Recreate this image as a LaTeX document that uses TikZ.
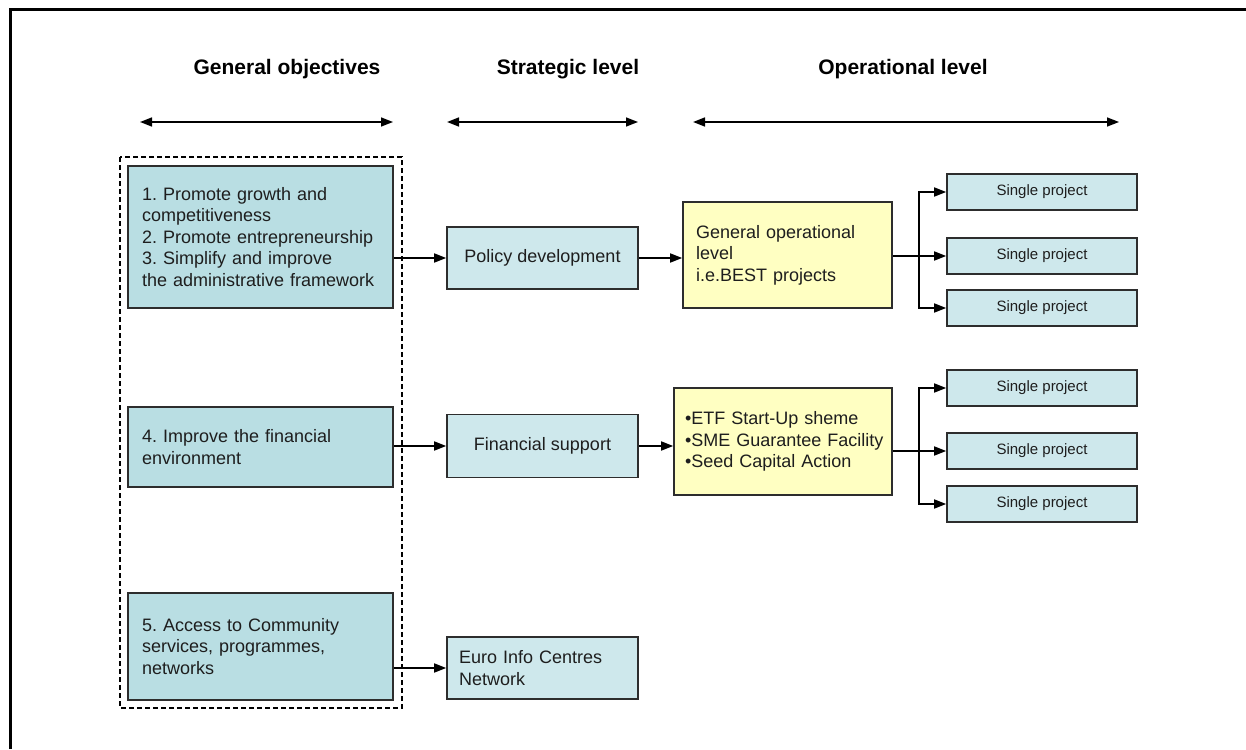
\documentclass[tikz,border=0pt]{standalone}
\usepackage{fontspec}
\setmainfont{Liberation Sans}
\usetikzlibrary{arrows.meta}
\definecolor{objfill}{RGB}{185,222,227}
\definecolor{stratfill}{RGB}{206,232,236}
\definecolor{opfill}{RGB}{255,255,194}
\definecolor{edgecol}{RGB}{45,45,45}
\definecolor{txtcol}{RGB}{30,30,30}
\frenchspacing
\begin{document}
\begin{tikzpicture}[x=1pt,y=-1pt,
  box/.style={draw=edgecol, line width=1.6pt, rectangle, inner ysep=0pt, text=txtcol,
    font=\fontsize{18}{21.5}\selectfont},
  obj/.style={box, fill=objfill, minimum width=265pt, inner xsep=14pt, text width=237pt, align=left},
  strat/.style={box, fill=stratfill, minimum width=191pt, minimum height=62pt, align=center},
  opbox/.style={box, fill=opfill, align=left},
  single/.style={box, fill=stratfill, minimum width=190pt, minimum height=36pt,
    font=\fontsize{15}{17}\selectfont},
  head/.style={font=\fontsize{21}{24}\selectfont\bfseries, text=black, inner sep=0pt},
  arr/.style={draw=black, line width=1.6pt, -{Triangle[length=12pt,width=9pt]}},
  darr/.style={draw=black, line width=1.6pt, {Triangle[length=12pt,width=9pt]}-{Triangle[length=12pt,width=9pt]}},
  line/.style={draw=black, line width=1.6pt}]
\useasboundingbox (0,0) rectangle (1246,749);
% outer frame (top and left)
\draw[line width=3pt] (10,749) -- (10,10) -- (1246,10);

% headings
\node[head] (h1) at (287,69) {General objectives};
\node[head] (h2) at (568,69) {Strategic level};
\node[head] (h3) at (903,69) {Operational level};

% double arrows
\coordinate (a1l) at (140,122); \coordinate (a1r) at (393,122);
\coordinate (a2l) at (447,122); \coordinate (a2r) at (638,122);
\coordinate (a3l) at (693,122); \coordinate (a3r) at (1119,122);
\draw[darr] (a1l) -- (a1r);
\draw[darr] (a2l) -- (a2r);
\draw[darr] (a3l) -- (a3r);

% dashed group
\draw[line width=1.5pt, dash pattern=on 5pt off 3pt] (120,157) rectangle (402,708);

% general objectives
\node[obj, minimum height=142pt] (o1) at (260.5,237) {1. Promote growth and\\competitiveness\\2. Promote entrepreneurship\\3. Simplify and improve\\the administrative framework};
\node[obj, minimum height=80pt] (o4) at (260.5,447) {4. Improve the financial\\environment};
\node[obj, minimum height=107pt] (o5) at (260.5,646.5) {5. Access to Community\\services, programmes,\\networks};

% strategic level
\node[strat] (pol) at (542.5,258) {Policy development};
\node[strat, minimum height=63pt] (fin) at (542.5,446) {Financial support};
\node[strat, align=left, inner xsep=12pt, text width=167pt] (euro) at (542.5,668) {Euro Info Centres\\Network};

% operational level
\node[opbox, minimum width=209pt, minimum height=106pt, inner xsep=13pt, text width=183pt] (y1) at (787.5,255) {General operational\\level\\i.e.BEST projects};
\node[opbox, minimum width=218pt, minimum height=107pt, inner xsep=11pt, text width=196pt] (y2) at (783,441.5) {\mbox{•ETF Start-Up sheme}\\\mbox{•SME Guarantee Facility}\\\mbox{•Seed Capital Action}};

% single projects
\node[single] (s1) at (1042,192) {Single project};
\node[single] (s2) at (1042,256) {Single project};
\node[single] (s3) at (1042,308) {Single project};
\node[single] (s4) at (1042,388) {Single project};
\node[single] (s5) at (1042,451) {Single project};
\node[single] (s6) at (1042,504) {Single project};

% connectors
\draw[arr] (o1.east |- pol.west) -- (pol.west);
\draw[arr] (o4.east |- fin.west) -- (fin.west);
\draw[arr] (o5.east |- euro.west) -- (euro.west);
\draw[arr] (pol.east) -- (pol.east -| y1.west);
\draw[arr] (fin.east) -- (fin.east -| y2.west);

\coordinate (b1) at (919,256);
\draw[line] (y1.east |- b1) -- (b1);
\draw[arr] (b1) |- (s1.west);
\draw[arr] (b1) -- (s2.west);
\draw[arr] (b1) |- (s3.west);

\coordinate (b2) at (919,451);
\draw[line] (y2.east |- b2) -- (b2);
\draw[arr] (b2) |- (s4.west);
\draw[arr] (b2) -- (s5.west);
\draw[arr] (b2) |- (s6.west);
\end{tikzpicture}
\end{document}
